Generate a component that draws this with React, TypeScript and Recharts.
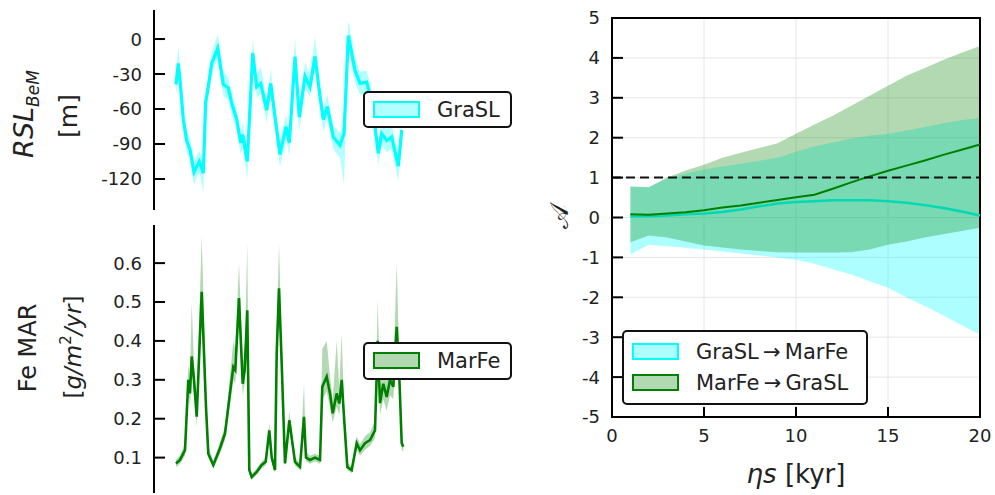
import React from 'react';
import {
  ComposedChart,
  Area,
  Line,
  XAxis,
  YAxis,
  CartesianGrid,
  ReferenceLine,
  ReferenceArea,
  Legend,
} from 'recharts';

const FONT = '"DejaVu Sans", Verdana, sans-serif';
const INK = '#222';

// RSL record (relative position along record, m)
const rslT = [0, 2.3, 4, 7.3, 10.7, 14, 18, 23.3, 27.3, 29.7, 32.3, 35.7, 41.7, 47.3, 52.3, 55.7, 60.7, 64.7, 66.7, 71.3, 76.7, 80.7, 84.7, 90.7, 94.7, 99, 104, 110, 113.3, 119, 123.3, 129, 134, 139, 144, 147.3, 151.3, 157.3, 164, 168, 172.3, 179, 184, 190.7, 196, 202.3, 205.7, 210.7, 215.7, 222.3, 225.7];
const rslMean = [-39, -21, -35, -69, -87, -95, -114, -105, -115, -54, -41, -21, -8, -39, -42, -55, -69, -89, -82, -105, -12, -41, -38, -61, -38, -67, -99, -75, -89, -15, -67, -32, -41, -15, -49, -69, -58, -84, -91, -81, 3, -27, -38, -37, -55, -98, -81, -87, -84, -109, -78];
const rslLo = [-48, -30, -44, -78, -97, -104, -125, -114, -132, -64, -50, -30, -17, -48, -52, -64, -78, -99, -92, -120, -22, -50, -47, -72, -48, -77, -110, -85, -100, -24, -80, -42, -50, -24, -59, -79, -68, -94, -102, -125, -7, -37, -48, -47, -65, -108, -91, -97, -94, -122, -88];
const rslHi = [-30, -6, -25, -60, -78, -86, -104, -96, -104, -44, -32, -12, 4, -28, -33, -46, -60, -80, -72, -95, 0, -31, -24, -52, -26, -57, -88, -65, -80, 2, -56, -20, -31, 2, -39, -59, -48, -74, -81, -71, 16, -16, -28, -27, -45, -88, -71, -77, -74, -98, -68];

// Fe mass accumulation rate (g/m^2/yr)
const feT = [0, 4, 9, 12.3, 14, 15.7, 18, 20.7, 25.7, 30, 32.3, 37.3, 44, 49, 54, 57.3, 59.3, 63, 66.7, 68.7, 71.3, 73.3, 75.7, 80.7, 85.7, 89.7, 93.3, 95.7, 99, 100.7, 103, 105.7, 109, 113.3, 119, 124, 128, 130, 134, 139, 144, 146.3, 150.7, 154, 156.7, 160.7, 163.3, 165.7, 168, 171.3, 175.7, 180.7, 184, 189, 194, 199, 201.7, 204, 207.3, 210.7, 214, 217.3, 220.7, 223.3, 225.7, 227.3];
const feMean = [0.085, 0.094, 0.119, 0.3, 0.265, 0.36, 0.3, 0.205, 0.526, 0.23, 0.11, 0.081, 0.124, 0.162, 0.265, 0.333, 0.325, 0.51, 0.29, 0.325, 0.479, 0.068, 0.05, 0.063, 0.081, 0.089, 0.17, 0.1, 0.068, 0.368, 0.535, 0.342, 0.085, 0.196, 0.089, 0.076, 0.205, 0.1, 0.094, 0.1, 0.094, 0.282, 0.308, 0.265, 0.214, 0.265, 0.239, 0.3, 0.205, 0.076, 0.068, 0.137, 0.119, 0.137, 0.145, 0.17, 0.4, 0.24, 0.29, 0.256, 0.3, 0.282, 0.436, 0.308, 0.137, 0.128];
const feLo = [0.075, 0.084, 0.105, 0.27, 0.23, 0.32, 0.26, 0.18, 0.47, 0.2, 0.1, 0.072, 0.11, 0.145, 0.24, 0.3, 0.29, 0.45, 0.26, 0.29, 0.42, 0.06, 0.044, 0.056, 0.072, 0.08, 0.15, 0.09, 0.06, 0.33, 0.48, 0.3, 0.076, 0.175, 0.08, 0.068, 0.18, 0.09, 0.084, 0.09, 0.084, 0.25, 0.27, 0.23, 0.19, 0.23, 0.21, 0.26, 0.18, 0.068, 0.06, 0.12, 0.105, 0.12, 0.13, 0.15, 0.35, 0.21, 0.25, 0.22, 0.26, 0.25, 0.38, 0.27, 0.12, 0.115];
const feHi = [0.095, 0.106, 0.135, 0.34, 0.3, 0.5, 0.34, 0.24, 0.67, 0.28, 0.13, 0.09, 0.14, 0.18, 0.31, 0.4, 0.38, 0.6, 0.34, 0.38, 0.65, 0.08, 0.058, 0.072, 0.09, 0.1, 0.19, 0.115, 0.078, 0.42, 0.65, 0.39, 0.095, 0.22, 0.1, 0.085, 0.29, 0.115, 0.105, 0.11, 0.105, 0.38, 0.4, 0.31, 0.25, 0.4, 0.28, 0.42, 0.24, 0.085, 0.078, 0.155, 0.135, 0.155, 0.165, 0.195, 0.505, 0.28, 0.33, 0.3, 0.34, 0.32, 0.6, 0.35, 0.155, 0.14];

// causality strength vs. lag
const lagKyr = [1, 2, 3, 4, 5, 6, 7, 8, 9, 10, 11, 12, 13, 14, 15, 16, 17, 18, 19, 20];
const grMean = [0.03, 0.03, 0.05, 0.08, 0.1, 0.14, 0.2, 0.28, 0.35, 0.39, 0.41, 0.43, 0.43, 0.43, 0.41, 0.37, 0.31, 0.24, 0.15, 0.05];
const grLo = [-0.92, -0.68, -0.72, -0.76, -0.8, -0.85, -0.9, -0.95, -1.0, -1.06, -1.16, -1.3, -1.43, -1.6, -1.76, -2.0, -2.22, -2.45, -2.7, -2.93];
const grHi = [0.78, 0.76, 0.98, 1.1, 1.2, 1.28, 1.35, 1.42, 1.5, 1.65, 1.78, 1.88, 1.98, 2.05, 2.1, 2.18, 2.27, 2.36, 2.44, 2.5];
const mfMean = [0.08, 0.07, 0.1, 0.13, 0.18, 0.25, 0.3, 0.37, 0.44, 0.51, 0.57, 0.72, 0.88, 1.03, 1.17, 1.3, 1.43, 1.57, 1.7, 1.83];
const mfLo = [-0.62, -0.45, -0.5, -0.6, -0.7, -0.75, -0.8, -0.84, -0.87, -0.88, -0.88, -0.88, -0.87, -0.8, -0.68, -0.6, -0.5, -0.42, -0.34, -0.26];
const mfHi = [0.78, 0.76, 1.0, 1.18, 1.32, 1.5, 1.62, 1.74, 1.86, 2.1, 2.33, 2.55, 2.8, 3.05, 3.3, 3.55, 3.75, 3.95, 4.13, 4.3];

const rslTicks = [-120, -90, -60, -30, 0];
const feTicks = [0.1, 0.2, 0.3, 0.4, 0.5, 0.6];
const lagTicks = [0, 5, 10, 15, 20];
const aTicks = [-5, -4, -3, -2, -1, 0, 1, 2, 3, 4, 5];

const rslData = rslT.map((t, i) => ({ t, mean: rslMean[i], band: [rslLo[i], rslHi[i]] }));
const feData = feT.map((t, i) => ({ t, mean: feMean[i], band: [feLo[i], feHi[i]] }));
const lagData = lagKyr.map((x, i) => ({
  x,
  gr: grMean[i],
  grBand: [grLo[i], grHi[i]],
  mf: mfMean[i],
  mfBand: [mfLo[i], mfHi[i]],
}));

function InTickY(props: any) {
  const { y, payload, axisX, fmt } = props;
  return (
    <g>
      <line x1={axisX} x2={axisX + 11} y1={y} y2={y} stroke="#000" strokeWidth={2} />
      <text x={axisX - 12} y={y} dy="0.36em" textAnchor="end" fontSize={18} fill={INK} fontFamily={FONT}>
        {fmt(payload.value)}
      </text>
    </g>
  );
}

function InTickX(props: any) {
  const { x, payload, axisY } = props;
  return (
    <g>
      <line x1={x} x2={x} y1={axisY} y2={axisY - 10} stroke="#000" strokeWidth={2} />
      <text x={x} y={axisY + 12} dy="0.73em" textAnchor="middle" fontSize={18} fill={INK} fontFamily={FONT}>
        {payload.value}
      </text>
    </g>
  );
}

function LegendBox({ width, height, items }: { width: number; height: number; items: { label: string; color: string; op: number }[] }) {
  return (
    <div
      style={{
        width,
        height,
        boxSizing: 'border-box',
        border: '2px solid #111',
        borderRadius: 5,
        background: '#fff',
        fontFamily: FONT,
        fontSize: 21,
        color: INK,
        display: 'flex',
        flexDirection: 'column',
        justifyContent: 'space-evenly',
        paddingLeft: 8,
      }}
    >
      {items.map((it) => (
        <div key={it.label} style={{ display: 'flex', alignItems: 'center', lineHeight: '24px' }}>
          <svg width={48} height={18} style={{ marginRight: 16 }}>
            <rect x={1} y={1} width={45} height={15} fill={it.color} fillOpacity={it.op} stroke={it.color} strokeWidth={2} />
          </svg>
          <span>{it.label}</span>
        </div>
      ))}
    </div>
  );
}

const panelLabel = (children: React.ReactNode) => () => <g>{children}</g>;

export default function App() {
  return (
    <div style={{ position: 'absolute', left: 0, top: 0, width: 995, height: 495, background: '#fff', fontFamily: FONT }}>
      {/* top left: RSL */}
      <div style={{ position: 'absolute', left: 0, top: 0 }}>
        <ComposedChart width={530} height={215} data={rslData} margin={{ top: 10, right: 10, bottom: 5, left: 0 }}>
          <XAxis dataKey="t" type="number" domain={[-22, 344]} hide />
          <YAxis
            type="number"
            domain={[-146.6, 24.9]}
            ticks={rslTicks}
            width={154}
            tickSize={0}
            tickMargin={12}
            interval={0}
            axisLine={{ stroke: '#000', strokeWidth: 2 }}
            tickLine={false}
            tick={(p: any) => <InTickY {...p} axisX={154} fmt={(v: number) => String(v)} />}
            label={{
              content: panelLabel(
                <>
                  <text transform="translate(33,114) rotate(-90)" textAnchor="middle" fontSize={27} fill={INK} fontFamily={FONT}>
                    <tspan fontStyle="italic">RSL</tspan>
                    <tspan fontStyle="italic" fontSize={17} dy={6}>BeM</tspan>
                  </text>
                  <text transform="translate(77,116) rotate(-90)" textAnchor="middle" fontSize={25} fill={INK} fontFamily={FONT}>
                    [m]
                  </text>
                </>
              ),
            }}
          />
          <Area type="linear" dataKey="band" stroke="none" fill="#00ffff" fillOpacity={0.3} isAnimationActive={false} dot={false} activeDot={false} />
          <Line type="linear" dataKey="mean" stroke="#00ffff" strokeWidth={3.2} dot={false} activeDot={false} isAnimationActive={false} />
          <Legend
            verticalAlign="middle"
            layout="horizontal"
            content={() => <LegendBox width={149} height={37} items={[{ label: 'GraSL', color: '#00ffff', op: 0.3 }]} />}
            wrapperStyle={{ left: 363, top: 91, width: 149, height: 37 }}
          />
        </ComposedChart>
      </div>

      {/* bottom left: Fe MAR */}
      <div style={{ position: 'absolute', left: 0, top: 215 }}>
        <ComposedChart width={530} height={280} data={feData} margin={{ top: 10, right: 10, bottom: 2, left: 0 }}>
          <XAxis dataKey="t" type="number" domain={[-22, 344]} hide />
          <YAxis
            type="number"
            domain={[0.009, 0.698]}
            ticks={feTicks}
            width={154}
            tickSize={0}
            tickMargin={12}
            interval={0}
            axisLine={{ stroke: '#000', strokeWidth: 2 }}
            tickLine={false}
            tick={(p: any) => <InTickY {...p} axisX={154} fmt={(v: number) => v.toFixed(1)} />}
            label={{
              content: panelLabel(
                <>
                  <text transform="translate(36,133) rotate(-90)" textAnchor="middle" fontSize={24} fill={INK} fontFamily={FONT}>
                    Fe MAR
                  </text>
                  <text transform="translate(81,132) rotate(-90)" textAnchor="middle" fontSize={23} fill={INK} fontFamily={FONT}>
                    [<tspan fontStyle="italic">g/m</tspan>
                    <tspan fontSize={15} dy={-10}>2</tspan>
                    <tspan fontStyle="italic" dy={10}>/yr</tspan>]
                  </text>
                </>
              ),
            }}
          />
          <Area type="linear" dataKey="band" stroke="none" fill="#008000" fillOpacity={0.3} isAnimationActive={false} dot={false} activeDot={false} />
          <Line type="linear" dataKey="mean" stroke="#008000" strokeWidth={2.6} dot={false} activeDot={false} isAnimationActive={false} />
          <Legend
            verticalAlign="middle"
            layout="horizontal"
            content={() => <LegendBox width={149} height={38} items={[{ label: 'MarFe', color: '#008000', op: 0.3 }]} />}
            wrapperStyle={{ left: 363, top: 127, width: 149, height: 38 }}
          />
        </ComposedChart>
      </div>

      {/* right: causal strength vs lag */}
      <div style={{ position: 'absolute', left: 540, top: 0 }}>
        <ComposedChart width={455} height={495} data={lagData} margin={{ top: 18, right: 15, bottom: 0, left: 0 }}>
          <CartesianGrid stroke="#e6e6e6" strokeWidth={1} />
          <XAxis
            dataKey="x"
            type="number"
            domain={[0, 20]}
            ticks={lagTicks}
            interval={0}
            height={78}
            tickSize={0}
            axisLine={false}
            tickLine={false}
            tick={(p: any) => <InTickX {...p} axisY={417} />}
            label={{
              content: panelLabel(
                <text x={256} y={483} textAnchor="middle" fontSize={26} fill={INK} fontFamily={FONT}>
                  <tspan fontStyle="italic">ηs</tspan> [kyr]
                </text>
              ),
            }}
          />
          <YAxis
            type="number"
            domain={[-5, 5]}
            ticks={aTicks}
            interval={0}
            width={72}
            tickSize={0}
            axisLine={false}
            tickLine={false}
            tick={(p: any) => <InTickY {...p} axisX={72} fmt={(v: number) => String(v)} />}
            label={{
              content: panelLabel(
                <text transform="translate(28,216) rotate(-90)" textAnchor="middle" fontSize={26} fill={INK} fontFamily={FONT}>
                  𝒜
                </text>
              ),
            }}
          />
          <Area type="linear" dataKey="grBand" stroke="none" fill="#00ffff" fillOpacity={0.32} isAnimationActive={false} dot={false} activeDot={false} />
          <Line type="linear" dataKey="gr" stroke="#00d9b3" strokeWidth={2.5} dot={false} activeDot={false} isAnimationActive={false} />
          <Area type="linear" dataKey="mfBand" stroke="none" fill="#008000" fillOpacity={0.3} isAnimationActive={false} dot={false} activeDot={false} />
          <Line type="linear" dataKey="mf" stroke="#008000" strokeWidth={2} dot={false} activeDot={false} isAnimationActive={false} />
          <ReferenceLine y={1} stroke="#111" strokeWidth={2} strokeDasharray="9 5" />
          <ReferenceArea x1={0} x2={20} y1={-5} y2={5} fill="none" stroke="#000" strokeWidth={2} />
          <Legend
            verticalAlign="middle"
            layout="horizontal"
            content={() => (
              <LegendBox
                width={246}
                height={75}
                items={[
                  { label: 'GraSL\u2009→\u2009MarFe', color: '#00ffff', op: 0.32 },
                  { label: 'MarFe\u2009→\u2009GraSL', color: '#008000', op: 0.3 },
                ]}
              />
            )}
            wrapperStyle={{ left: 82, top: 330, width: 246, height: 75 }}
          />
        </ComposedChart>
      </div>
    </div>
  );
}
